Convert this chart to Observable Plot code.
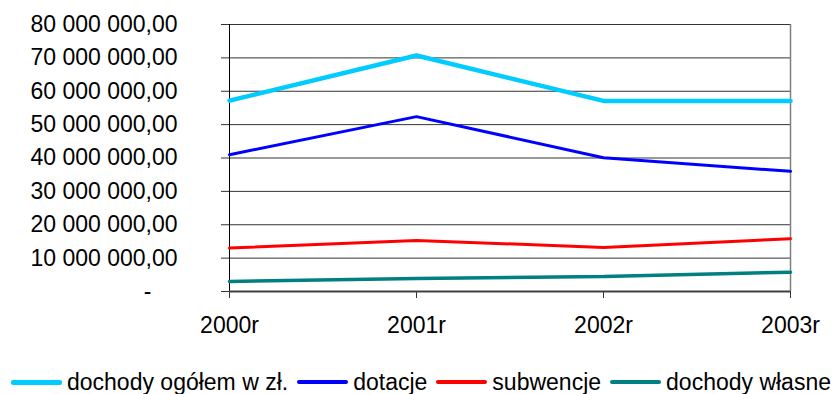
<!DOCTYPE html>
<html>
<head>
<meta charset="utf-8">
<script src="https://cdn.jsdelivr.net/npm/d3@7"></script>
<script src="https://cdn.jsdelivr.net/npm/@observablehq/plot@0.6"></script>
<style>
  body { margin: 0; background: #fff; font-family: "Liberation Sans", Arial, sans-serif; }
  #chart svg { display: block; }
  #legend { height: 34px; box-sizing: border-box; padding-top: 10px; padding-left: 11px; display: flex; align-items: center; font-size: 23px; line-height: 22px; white-space: nowrap; overflow: hidden; color: #000; }
  .item { display: flex; align-items: center; margin-right: 9px; }
  .sw { width: 51px; margin-right: 5px; border-radius: 2px; }
</style>
</head>
<body>
<div id="chart"></div>
<div id="legend"></div>
<script>
const years = ["2000r", "2001r", "2002r", "2003r"];
const seriesNames = ["dochody ogółem w zł.", "dotacje", "subwencje", "dochody własne"];
const ogolem = [57200000, 70700000, 57100000, 57100000];
const dotacje = [41000000, 52400000, 40100000, 36000000];
const subwencje = [13000000, 15300000, 13200000, 15800000];
const wlasne = [3000000, 3900000, 4500000, 5800000];
const yTicks = [0, 10000000, 20000000, 30000000, 40000000, 50000000, 60000000, 70000000, 80000000];

const colors = ["#00CCFF", "#0000FF", "#FF0000", "#008080"];
const widths = [4.5, 3, 3, 3.5];
const allValues = [ogolem, dotacje, subwencje, wlasne];

const data = [];
allValues.forEach((vals, si) => vals.forEach((v, i) => data.push({series: seriesNames[si], year: years[i], value: v})));

const fmt = v => v === 0 ? "-" : d3.format(",.2f")(v).replace(/,/g, " ").replace(".", ",");

const chart = Plot.plot({
  width: 835,
  height: 360,
  marginLeft: 229,
  marginRight: 45,
  marginTop: 24,
  marginBottom: 69,
  style: {fontFamily: "'Liberation Sans', Arial, sans-serif", fontSize: "23px", color: "#000", background: "#fff"},
  x: {type: "point", domain: years, padding: 0},
  y: {domain: [0, 80000000]},
  marks: [
    Plot.gridY(yTicks.slice(1), {stroke: "#000", strokeOpacity: 0.8}),
    Plot.ruleX([years[years.length - 1]], {y1: 0, y2: 80000000, stroke: "#808080", strokeWidth: 1.5}),
    Plot.ruleX([years[0]], {y1: 0, y2: 80000000, stroke: "#000"}),
    Plot.axisY({ticks: yTicks, tickSize: 8, tickPadding: 44, tickFormat: fmt, label: null, stroke: "#333"}),
    Plot.axisX({tickSize: 7, tickPadding: 18, label: null, stroke: "#333"}),
    ...allValues.map((vals, si) => Plot.line(data.filter(d => d.series === seriesNames[si]), {
      x: "year", y: "value", stroke: colors[si], strokeWidth: widths[si], strokeLinejoin: "miter"
    })),
    Plot.ruleY([0], {stroke: "#404040", strokeWidth: 2})
  ]
});
document.getElementById("chart").appendChild(chart);

// shift the "-" zero label like the accounting format
chart.querySelectorAll("text").forEach(t => {
  if (t.textContent === "-") t.setAttribute("transform", (t.getAttribute("transform") || "") + " translate(-26,0)");
});

const legend = document.getElementById("legend");
seriesNames.forEach((name, i) => {
  const it = document.createElement("div");
  it.className = "item";
  const sw = document.createElement("span");
  sw.className = "sw";
  sw.style.height = (i === 0 ? 5 : 4) + "px";
  sw.style.background = colors[i];
  const tx = document.createElement("span");
  tx.textContent = name;
  it.appendChild(sw);
  it.appendChild(tx);
  legend.appendChild(it);
});
</script>
</body>
</html>
